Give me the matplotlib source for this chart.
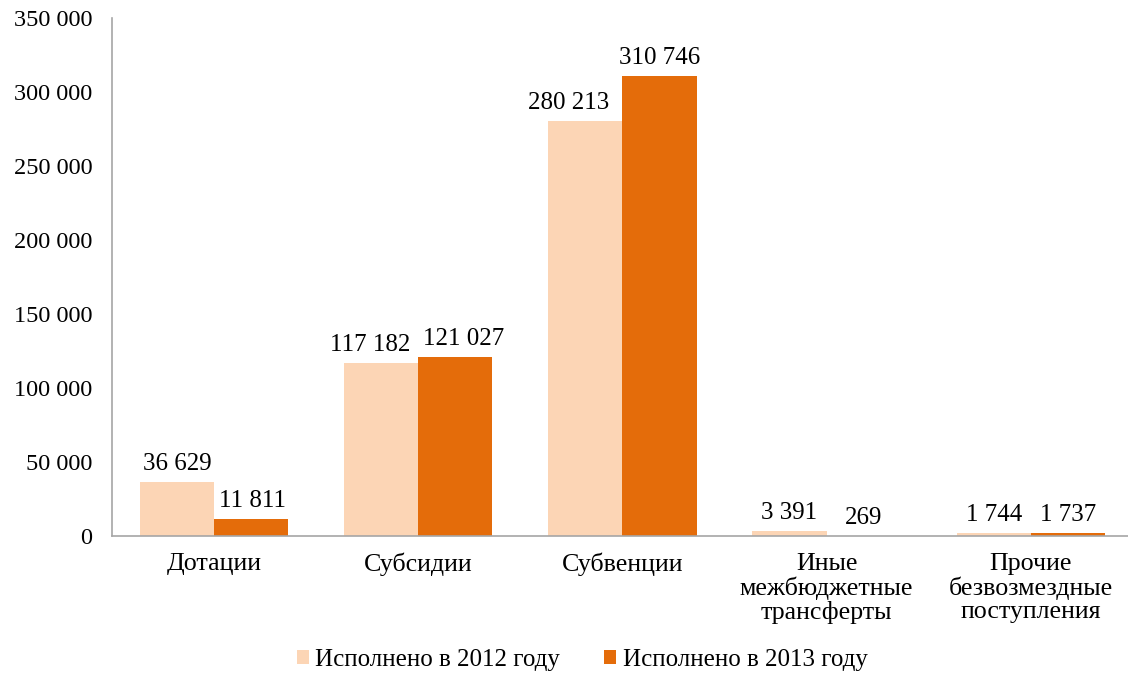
import numpy as np
import matplotlib
matplotlib.use('Agg')
import matplotlib.pyplot as plt
from matplotlib.ticker import FuncFormatter

categories = ["Дотации", "Субсидии", "Субвенции",
              "Иные\nмежбюджетные\nтрансферты",
              "Прочие\nбезвозмездные\nпоступления"]
values_2012 = [36629, 117182, 280213, 3391, 1744]
values_2013 = [11811, 121027, 310746, 269, 1737]
series_names = ["Исполнено в 2012 году", "Исполнено в 2013 году"]

plt.rcParams['font.family'] = ['Liberation Serif', 'DejaVu Serif']
plt.rcParams['font.size'] = 18

fig = plt.figure(figsize=(11.28, 6.73), dpi=100)
ax = fig.add_axes([0.0993, 0.2036, 0.905, 0.7694])

x = np.arange(len(categories))
w = 0.363
b1 = ax.bar(x - w / 2, values_2012, w, color='#FCD5B5', label=series_names[0])
b2 = ax.bar(x + w / 2, values_2013, w, color='#E46C0A', label=series_names[1])


def fmt(v):
    return f"{int(v):,}".replace(",", " ")


# сдвиг подписей по x (в пунктах), чтобы соседние не налезали
shift_2012 = [0, -8, -12, 0, 0]
shift_2013 = [1, 6, 0, 0, 0]

for bars, vals, sh in ((b1, values_2012, shift_2012), (b2, values_2013, shift_2013)):
    for r, v, dx in zip(bars, vals, sh):
        ax.annotate(fmt(v), (r.get_x() + r.get_width() / 2, v),
                    xytext=(dx, 5), textcoords='offset points',
                    ha='center', va='bottom', fontsize=18)

ax.set_xlim(-0.5, 4.5)
ax.set_ylim(0, 350000)
ax.set_yticks(np.arange(0, 350001, 50000))
ax.yaxis.set_major_formatter(FuncFormatter(lambda v, p: fmt(v)))
ax.set_xticks(x)
ax.set_xticklabels(categories, linespacing=1.08, fontsize=18.7)
ax.tick_params(length=0)
ax.tick_params(axis='x', pad=12)
ax.tick_params(axis='y', pad=14, labelsize=17.5)

for s in ('top', 'right'):
    ax.spines[s].set_visible(False)
for s in ('left', 'bottom'):
    ax.spines[s].set_color('#A6A6A6')
    ax.spines[s].set_linewidth(1.2)

fig.legend(loc='lower center', bbox_to_anchor=(0.516, -0.03), ncol=2,
           frameon=False, handlelength=0.5, handleheight=0.5,
           handletextpad=0.25, columnspacing=1.75, fontsize=18)

fig.savefig("out.png", dpi=100)
